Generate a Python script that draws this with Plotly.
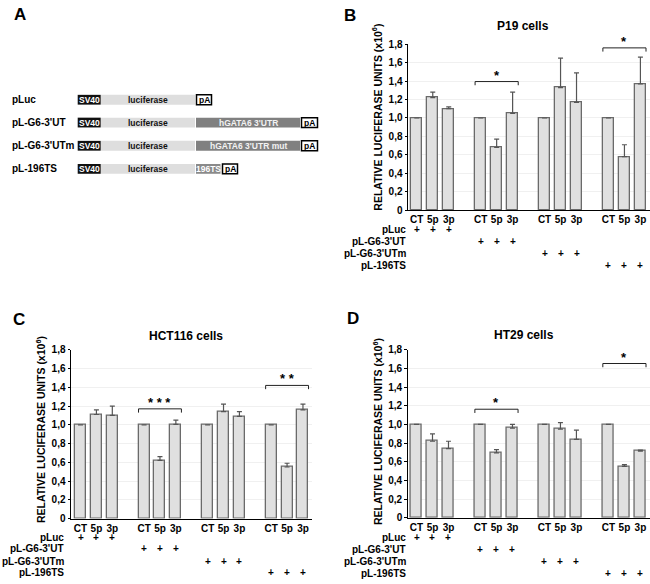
import plotly.graph_objects as go

W, H = 650, 584
FONT = "Liberation Sans"

# ---------------- data ----------------
groups = ["pLuc", "pL-G6-3'UT", "pL-G6-3'UTm", "pL-196TS"]
treatments = ["CT", "5p", "3p"]

p19_vals = [1.00, 1.22, 1.10, 1.00, 0.68, 1.05, 1.00, 1.33, 1.17, 1.00, 0.58, 1.37]
p19_err = [0.00, 0.06, 0.02, 0.00, 0.09, 0.23, 0.00, 0.32, 0.32, 0.00, 0.13, 0.29]

hct_vals = [1.00, 1.11, 1.10, 1.00, 0.62, 1.005, 1.00, 1.14, 1.09, 1.00, 0.55, 1.16]
hct_err = [0.00, 0.05, 0.10, 0.00, 0.04, 0.045, 0.00, 0.08, 0.05, 0.00, 0.04, 0.06]

ht29_vals = [1.00, 0.82, 0.74, 1.00, 0.695, 0.96, 1.00, 0.95, 0.84, 1.00, 0.55, 0.715]
ht29_err = [0.00, 0.08, 0.08, 0.00, 0.035, 0.04, 0.00, 0.07, 0.10, 0.00, 0.02, 0.01]

# significance: (group index, bracket height, stars)
p19_sig = [(1, 1.395, "*"), (3, 1.76, "*")]
hct_sig = [(1, 1.17, "* * *"), (3, 1.42, "* *")]
ht29_sig = [(1, 1.163, "*"), (3, 1.653, "*")]

ytick_vals = [0, 0.2, 0.4, 0.6, 0.8, 1.0, 1.2, 1.4, 1.6, 1.8]
ytick_text = ["0", "0,2", "0,4", "0,6", "0,8", "1,0", "1,2", "1,4", "1,6", "1,8"]

# panel A constructs
constructs = ["pLuc", "pL-G6-3'UT", "pL-G6-3'UTm", "pL-196TS"]
utr_texts = ["", "hGATA6 3'UTR", "hGATA6 3'UTR mut", "196TS"]

# ---------------- helpers ----------------
def px(x):
    return x / W

def py(y):
    return 1 - y / H

def bold(size, color="#000000"):
    return dict(family=FONT, size=size, color=color, weight="bold")

BAR_FILL = "#e0e0e0"
BAR_LINE = "#6a6a6a"

xpos = [g * 4 + k for g in range(4) for k in range(3)]
xtext = treatments * 4

panels = [
    dict(name="P19 cells", vals=p19_vals, err=p19_err, sig=p19_sig, ax="",
         xdom=(408, 650), ydom=(39, 208.5), xr=[-0.55, 14.6],
         title=(523, 20), ytitle=(377, 114), rowlab_x=407,
         rows_y=[228, 240, 252.5, 264.5], letter="B", letter_pos=(350, 10)),
    dict(name="HCT116 cells", vals=hct_vals, err=hct_err, sig=hct_sig, ax="2",
         xdom=(71, 311.7), ydom=(351, 523.3), xr=[-0.6, 14.55],
         title=(186, 336.7), ytitle=(40, 433), rowlab_x=65,
         rows_y=[542.3, 554.3, 566.7, 578.3], letter="C", letter_pos=(19, 320)),
    dict(name="HT29 cells", vals=ht29_vals, err=ht29_err, sig=ht29_sig, ax="3",
         xdom=(407.7, 650), ydom=(351, 522.5), xr=[-0.55, 14.6],
         title=(524, 335.7), ytitle=(377, 435), rowlab_x=407,
         rows_y=[543, 555, 567, 579], letter="D", letter_pos=(353, 319)),
]

fig = go.Figure()
annotations = []
shapes = []
layout_axes = {}


def note(text, x, y, font, xref="paper", yref="paper", xanchor="center", yanchor="middle", **kw):
    annotations.append(dict(text=text, x=x, y=y, xref=xref, yref=yref, showarrow=False,
                            xanchor=xanchor, yanchor=yanchor, font=font, **kw))


for p in panels:
    a = p["ax"]
    xa, ya = "x" + a, "y" + a
    fig.add_trace(go.Bar(
        x=xpos, y=p["vals"], xaxis=xa, yaxis=ya, width=0.69,
        marker=dict(color=BAR_FILL, line=dict(color=BAR_LINE, width=1.3)),
        error_y=dict(type="data", array=p["err"], arrayminus=[0] * 12, symmetric=False,
                     color="#555555", thickness=1.2, width=2.5),
        showlegend=False, hoverinfo="skip"))
    layout_axes["xaxis" + a] = dict(
        domain=[px(p["xdom"][0]), px(p["xdom"][1])], range=p["xr"], anchor=ya,
        tickvals=xpos, ticktext=xtext, tickangle=0, showline=True, linecolor="#000000",
        linewidth=1, ticks="", showgrid=False, zeroline=False, fixedrange=True,
        tickfont=bold(10))
    layout_axes["yaxis" + a] = dict(
        domain=[py(p["ydom"][1]), py(p["ydom"][0])], range=[0, 1.8], anchor=xa,
        tickvals=ytick_vals, ticktext=ytick_text, showline=True, linecolor="#000000",
        linewidth=1, ticks="outside", ticklen=2.5, tickcolor="#000000",
        showgrid=True, gridcolor="#f0f0f0", gridwidth=1, zeroline=False, fixedrange=True,
        tickfont=bold(10))
    note(p["name"], px(p["title"][0]), py(p["title"][1]), bold(12))
    note("RELATIVE LUCIFERASE UNITS (x10<sup>6</sup>)", px(p["ytitle"][0]), py(p["ytitle"][1]),
         bold(10.5), textangle=-90)
    note(p["letter"], px(p["letter_pos"][0]), py(p["letter_pos"][1]), bold(17))
    for gi, g in enumerate(groups):
        ry = py(p["rows_y"][gi])
        note(g, px(p["rowlab_x"]), ry, bold(10), xanchor="right", borderpad=0)
        for k in range(3):
            note("+", gi * 4 + k, ry, bold(10), xref=xa, borderpad=0)
    for gi, yb, stars in p["sig"]:
        x0, x1 = gi * 4 - 0.35, gi * 4 + 2.35
        d = 0.04
        shapes.append(dict(type="path", xref=xa, yref=ya,
                           path=f"M {x0},{yb - d} L {x0},{yb} L {x1},{yb} L {x1},{yb - d}",
                           line=dict(color="#222222", width=1)))
        note(stars, gi * 4 + 1, yb, bold(13), xref=xa, yref=ya, yanchor="bottom", yshift=-3)

# ---------------- panel A (construct diagram) ----------------
note("A", px(20), py(9), bold(17))
row_y = [95.7, 119, 142.7, 166.3]
bh = 5
for i, name in enumerate(constructs):
    cy = row_y[i]
    note(name, px(10), py(cy), bold(10), xanchor="left")

    def box(x0, x1, fill, line=None, lw=0, cy=cy):
        shapes.append(dict(type="rect", xref="paper", yref="paper",
                           x0=px(x0), x1=px(x1), y0=py(cy + bh), y1=py(cy - bh),
                           fillcolor=fill, line=dict(color=line or fill, width=lw)))

    def label(x, t, color, size=8.5, cy=cy):
        note(t, px(x), py(cy), bold(size, color))

    box(77.7, 100.7, "#111111")
    label(89.2, "SV40", "#ffffff")
    box(101, 195, "#dedede")
    label(147.7, "luciferase", "#111111")
    if i == 0:
        box(196.5, 211.5, "#ffffff", "#000000", 1.5)
        label(204, "pA", "#000000")
    elif i in (1, 2):
        box(196, 300, "#808080")
        label(248, utr_texts[i], "#f2f2f2")
        box(301.5, 317.5, "#ffffff", "#000000", 1.5)
        label(309.5, "pA", "#000000")
    else:
        box(196, 220.5, "#8a8a8a")
        label(208.2, utr_texts[i], "#ffffff")
        box(222.5, 237.5, "#ffffff", "#000000", 1.5)
        label(230, "pA", "#000000")

fig.update_layout(
    width=W, height=H, margin=dict(l=0, r=0, t=0, b=0),
    paper_bgcolor="#ffffff", plot_bgcolor="#ffffff",
    annotations=annotations, shapes=shapes, bargap=0,
    font=dict(family=FONT, color="#000000"),
    **layout_axes)

fig.write_html("out.html", config={"displayModeBar": False},
               post_script="document.body.style.margin='0px';")
